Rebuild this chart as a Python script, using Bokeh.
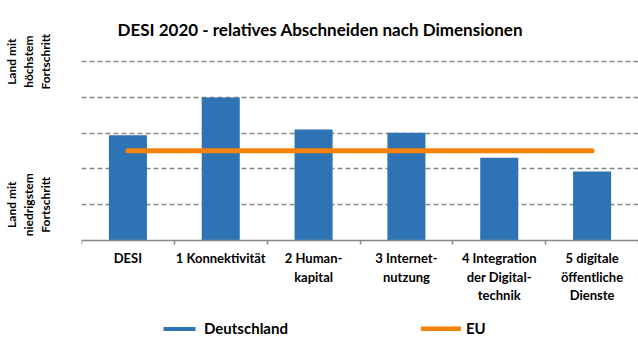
from bokeh.plotting import figure
from bokeh.models import FixedTicker, Range1d, Legend, LegendItem, ColumnDataSource
from bokeh.embed import file_html
from bokeh.resources import INLINE

categories = ["DESI", "1 Konnektivität", "2 Human-\nkapital", "3 Internet-\nnutzung",
              "4 Integration\nder Digital-\ntechnik", "5 digitale\nöffentliche\nDienste"]
deutschland = [2.94, 4.0, 3.10, 3.01, 2.31, 1.93]
eu = [2.51, 2.51, 2.51, 2.51, 2.51, 2.51]
y_labels = {1: "Land mit\nniedrigstem\nFortschritt", 5: "Land mit\nhöchstem\nFortschritt"}
title = "DESI 2020 -  relatives  Abschneiden nach Dimensionen"

BLUE = "#2E74B5"
ORANGE = "#F5820D"
GRAY = "#868686"
FONT = "Lato"

xs = list(range(len(categories)))
src = ColumnDataSource(dict(x=xs, de=deutschland, eu=eu))

# frame spans down to the canvas bottom; the category axis is pinned at y = 0
p = figure(width=638, height=353, output_backend="svg", toolbar_location=None,
           x_range=Range1d(-0.5, 5.5), y_range=Range1d(-3.16, 5.48),
           min_border_left=78, min_border_right=0, min_border_top=44, min_border_bottom=0)
p.outline_line_color = None
p.background_fill_color = "white"

p.title.text = title
p.title.align = "left"
p.title.offset = 36
p.title.text_font = FONT
p.title.text_font_size = "17px"
p.title.text_font_style = "bold"
p.title.text_color = "black"

bars = p.vbar(x="x", top="de", width=0.41, source=src, fill_color=BLUE, line_color=None)
line = p.line(x="x", y="eu", source=src, line_width=5, line_color=ORANGE, line_cap="round")

# x axis
xa = p.xaxis[0]
xa.fixed_location = 0
xa.ticker = FixedTicker(ticks=xs, minor_ticks=[i - 0.5 for i in range(len(categories) + 1)])
xa.major_label_overrides = {i: c for i, c in enumerate(categories)}
xa.major_tick_line_color = None
xa.major_tick_out = 0
xa.major_tick_in = 0
xa.minor_tick_line_color = GRAY
xa.minor_tick_out = 4
xa.minor_tick_in = 0
xa.minor_tick_line_width = 1.5
xa.axis_line_color = GRAY
xa.axis_line_width = 1.5
xa.major_label_standoff = 6
xa.major_label_text_font = FONT
xa.major_label_text_font_size = "13px"
xa.major_label_text_font_style = "bold"
xa.major_label_text_color = "black"
xa.major_label_text_line_height = 1.15

# y axis
ya = p.yaxis[0]
ya.ticker = FixedTicker(ticks=list(y_labels.keys()))
ya.major_label_overrides = y_labels
ya.major_label_orientation = "vertical"
ya.axis_line_color = None
ya.major_tick_line_color = None
ya.minor_tick_line_color = None
ya.major_tick_out = 0
ya.major_label_standoff = 28
ya.major_label_text_font = FONT
ya.major_label_text_font_size = "12px"
ya.major_label_text_font_style = "bold"
ya.major_label_text_color = "black"
ya.major_label_text_line_height = 1.15

p.xgrid.visible = False
p.ygrid.ticker = FixedTicker(ticks=[1, 2, 3, 4, 5])
p.ygrid.grid_line_color = GRAY
p.ygrid.grid_line_width = 1.5
p.ygrid.grid_line_dash = "5 3"

legend = Legend(items=[LegendItem(label="Deutschland", renderers=[bars]),
                       LegendItem(label="EU", renderers=[line])],
                orientation="horizontal", glyph_width=40, glyph_height=5,
                spacing=133, label_standoff=5,
                border_line_color=None, background_fill_alpha=0,
                label_text_font=FONT, label_text_font_style="bold",
                label_text_font_size="15px", label_text_color="black",
                location=(78, 16), margin=0, padding=0)
p.add_layout(legend)

open("out.html", "w").write(file_html(p, INLINE))
